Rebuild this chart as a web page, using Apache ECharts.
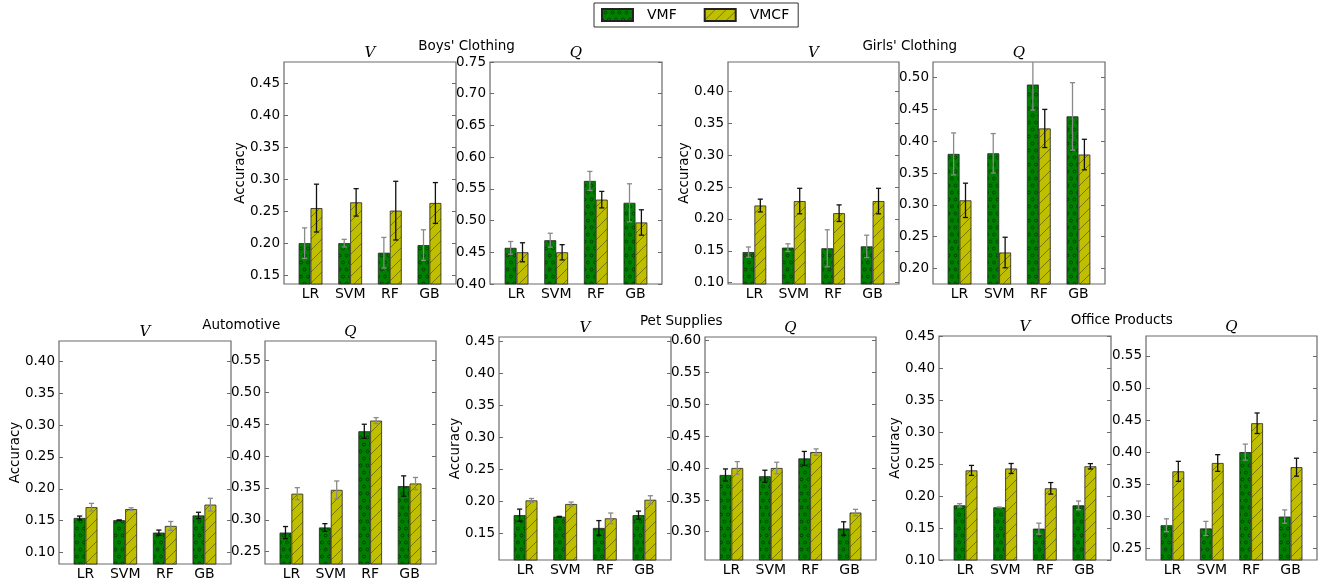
<!DOCTYPE html>
<html><head><meta charset="utf-8">
<script src="https://cdn.jsdelivr.net/npm/echarts@6/dist/echarts.min.js"></script>
<style>html,body{margin:0;padding:0;background:#fff}#c{width:1323px;height:583px}</style>
</head><body><div id="c"></div>
<script>
// ---------- DATA ----------
const categories = ['LR', 'SVM', 'RF', 'GB'];
const seriesNames = ['VMF', 'VMCF'];
const groupTitles = ["Boys' Clothing", "Girls' Clothing", 'Automotive', 'Pet Supplies', 'Office Products'];
const metricNames = ['V', 'Q'];

// Boys' Clothing
const boysV_VMF = [0.200, 0.200, 0.185, 0.197];
const boysV_VMF_err = [0.024, 0.006, 0.024, 0.024];
const boysV_VMCF = [0.255, 0.264, 0.251, 0.263];
const boysV_VMCF_err = [0.0375, 0.0215, 0.046, 0.032];
const boysQ_VMF = [0.457, 0.469, 0.5625, 0.528];
const boysQ_VMF_err = [0.010, 0.011, 0.015, 0.030];
const boysQ_VMCF = [0.450, 0.450, 0.533, 0.497];
const boysQ_VMCF_err = [0.015, 0.012, 0.013, 0.020];
// Girls' Clothing
const girlsV_VMF = [0.148, 0.155, 0.154, 0.157];
const girlsV_VMF_err = [0.008, 0.006, 0.029, 0.0175];
const girlsV_VMCF = [0.221, 0.228, 0.209, 0.228];
const girlsV_VMCF_err = [0.010, 0.020, 0.013, 0.020];
const girlsQ_VMF = [0.380, 0.381, 0.489, 0.439];
const girlsQ_VMF_err = [0.033, 0.031, 0.040, 0.053];
const girlsQ_VMCF = [0.307, 0.225, 0.420, 0.379];
const girlsQ_VMCF_err = [0.027, 0.024, 0.030, 0.024];
// Automotive
const autoV_VMF = [0.154, 0.1505, 0.131, 0.158];
const autoV_VMF_err = [0.003, 0.0005, 0.004, 0.005];
const autoV_VMCF = [0.171, 0.168, 0.1415, 0.175];
const autoV_VMCF_err = [0.006, 0.002, 0.007, 0.010];
const autoQ_VMF = [0.280, 0.288, 0.439, 0.353];
const autoQ_VMF_err = [0.0095, 0.006, 0.011, 0.016];
const autoQ_VMCF = [0.341, 0.347, 0.4557, 0.357];
const autoQ_VMCF_err = [0.0095, 0.014, 0.0047, 0.0095];
// Pet Supplies
const petV_VMF = [0.179, 0.1766, 0.159, 0.179];
const petV_VMF_err = [0.0094, 0.0005, 0.0115, 0.0063];
const petV_VMCF = [0.202, 0.1964, 0.174, 0.203];
const petV_VMCF_err = [0.003, 0.003, 0.0083, 0.0063];
const petQ_VMF = [0.389, 0.387, 0.415, 0.305];
const petQ_VMF_err = [0.0095, 0.0095, 0.011, 0.0105];
const petQ_VMCF = [0.400, 0.400, 0.425, 0.330];
const petQ_VMCF_err = [0.010, 0.009, 0.005, 0.005];
// Office Products
const officeV_VMF = [0.1854, 0.1823, 0.149, 0.1854];
const officeV_VMF_err = [0.0026, 0.0005, 0.0086, 0.0068];
const officeV_VMCF = [0.240, 0.243, 0.212, 0.2464];
const officeV_VMCF_err = [0.0078, 0.0078, 0.009, 0.0042];
const officeQ_VMF = [0.286, 0.281, 0.400, 0.2995];
const officeQ_VMF_err = [0.010, 0.011, 0.0125, 0.0104];
const officeQ_VMCF = [0.370, 0.383, 0.445, 0.3765];
const officeQ_VMCF_err = [0.0156, 0.013, 0.016, 0.014];

// Tick labels
const boysV_ticks = [0.15, 0.20, 0.25, 0.30, 0.35, 0.40, 0.45];
const boysQ_ticks = [0.40, 0.45, 0.50, 0.55, 0.60, 0.65, 0.70, 0.75];
const girlsV_ticks = [0.10, 0.15, 0.20, 0.25, 0.30, 0.35, 0.40];
const girlsQ_ticks = [0.20, 0.25, 0.30, 0.35, 0.40, 0.45, 0.50];
const autoV_ticks = [0.10, 0.15, 0.20, 0.25, 0.30, 0.35, 0.40];
const autoQ_ticks = [0.25, 0.30, 0.35, 0.40, 0.45, 0.50, 0.55];
const petV_ticks = [0.15, 0.20, 0.25, 0.30, 0.35, 0.40, 0.45];
const petQ_ticks = [0.30, 0.35, 0.40, 0.45, 0.50, 0.55, 0.60];
const officeV_ticks = [0.10, 0.15, 0.20, 0.25, 0.30, 0.35, 0.40, 0.45];
const officeQ_ticks = [0.25, 0.30, 0.35, 0.40, 0.45, 0.50, 0.55];

// Axis ranges
const boysV_range = [0.136, 0.484];
const boysQ_range = [0.40, 0.75];
const girlsV_range = [0.098, 0.446];
const girlsQ_range = [0.1755, 0.5245];
const autoV_range = [0.0816, 0.4325];
const autoQ_range = [0.2307, 0.5806];
const petV_range = [0.109, 0.457];
const petQ_range = [0.2555, 0.6057];
const officeV_range = [0.10, 0.45];
const officeQ_range = [0.2318, 0.581];

// ---------- LAYOUT / STYLE ----------
const FONT = 'DejaVu Sans';
const panels = [
  {g: 0, m: 0, vmf: boysV_VMF, vmfE: boysV_VMF_err, vmcf: boysV_VMCF, vmcfE: boysV_VMCF_err, ticks: boysV_ticks, range: boysV_range, box: [284, 62, 172, 222], gray: 0},
  {g: 0, m: 1, vmf: boysQ_VMF, vmfE: boysQ_VMF_err, vmcf: boysQ_VMCF, vmcfE: boysQ_VMCF_err, ticks: boysQ_ticks, range: boysQ_range, box: [490, 62, 172, 222], gray: 0},
  {g: 1, m: 0, vmf: girlsV_VMF, vmfE: girlsV_VMF_err, vmcf: girlsV_VMCF, vmcfE: girlsV_VMCF_err, ticks: girlsV_ticks, range: girlsV_range, box: [728, 62, 171, 222], gray: 0},
  {g: 1, m: 1, vmf: girlsQ_VMF, vmfE: girlsQ_VMF_err, vmcf: girlsQ_VMCF, vmcfE: girlsQ_VMCF_err, ticks: girlsQ_ticks, range: girlsQ_range, box: [933, 62, 172, 222], gray: 0},
  {g: 2, m: 0, vmf: autoV_VMF, vmfE: autoV_VMF_err, vmcf: autoV_VMCF, vmcfE: autoV_VMCF_err, ticks: autoV_ticks, range: autoV_range, box: [59, 341, 172, 223], gray: 1},
  {g: 2, m: 1, vmf: autoQ_VMF, vmfE: autoQ_VMF_err, vmcf: autoQ_VMCF, vmcfE: autoQ_VMCF_err, ticks: autoQ_ticks, range: autoQ_range, box: [265, 341, 171, 223], gray: 1},
  {g: 3, m: 0, vmf: petV_VMF, vmfE: petV_VMF_err, vmcf: petV_VMCF, vmcfE: petV_VMCF_err, ticks: petV_ticks, range: petV_range, box: [499, 337, 172, 223], gray: 1},
  {g: 3, m: 1, vmf: petQ_VMF, vmfE: petQ_VMF_err, vmcf: petQ_VMCF, vmcfE: petQ_VMCF_err, ticks: petQ_ticks, range: petQ_range, box: [705, 337, 171, 223], gray: 1},
  {g: 4, m: 0, vmf: officeV_VMF, vmfE: officeV_VMF_err, vmcf: officeV_VMCF, vmcfE: officeV_VMCF_err, ticks: officeV_ticks, range: officeV_range, box: [939, 336, 172, 224], gray: 0},
  {g: 4, m: 1, vmf: officeQ_VMF, vmfE: officeQ_VMF_err, vmcf: officeQ_VMCF, vmcfE: officeQ_VMCF_err, ticks: officeQ_ticks, range: officeQ_range, box: [1146, 336, 171, 224], gray: 0}
];
const X_MIN = -0.67, X_MAX = 3.67, BAR_W = 0.3;

function circlePattern() {
  const c = document.createElement('canvas');
  c.width = 7; c.height = 14;
  const g = c.getContext('2d');
  g.fillStyle = '#008000'; g.fillRect(0, 0, 7, 14);
  g.strokeStyle = 'rgba(0,0,0,0.55)'; g.lineWidth = 0.8;
  [[3.5, 3.5], [0, 10.5], [7, 10.5]].forEach(p => {
    g.beginPath(); g.arc(p[0], p[1], 1.5, 0, Math.PI * 2); g.stroke();
  });
  return c;
}
function slashPattern() {
  const c = document.createElement('canvas');
  c.width = 11; c.height = 11;
  const g = c.getContext('2d');
  g.fillStyle = '#bfbf00'; g.fillRect(0, 0, 11, 11);
  g.strokeStyle = 'rgba(40,40,0,0.6)'; g.lineWidth = 0.8;
  g.beginPath();
  g.moveTo(0, 11); g.lineTo(11, 0);
  g.moveTo(-1, 1); g.lineTo(1, -1);
  g.moveTo(10, 12); g.lineTo(12, 10);
  g.stroke();
  return c;
}
const fills = [{image: circlePattern(), repeat: 'repeat'}, {image: slashPattern(), repeat: 'repeat'}];

function errRenderer(offset, color) {
  return function (params, api) {
    const x = api.value(0) + offset, y = api.value(1), e = api.value(2);
    const top = api.coord([x, y + e]);
    const bot = api.coord([x, y - e]);
    const cap = api.size([0.065, 0])[0];
    const st = {stroke: color, lineWidth: 1.3};
    return {type: 'group', children: [
      {type: 'line', shape: {x1: top[0], y1: top[1], x2: bot[0], y2: bot[1]}, style: st},
      {type: 'line', shape: {x1: top[0] - cap, y1: top[1], x2: top[0] + cap, y2: top[1]}, style: st},
      {type: 'line', shape: {x1: bot[0] - cap, y1: bot[1], x2: bot[0] + cap, y2: bot[1]}, style: st}
    ]};
  };
}

const grids = [], xAxes = [], yAxes = [], series = [], graphics = [];
const catPos = categories.map((_, i) => i);
panels.forEach((p, i) => {
  const [l, t, w, h] = p.box;
  grids.push({left: l, top: t, width: w, height: h, show: true, borderColor: '#6a6a6a', borderWidth: 1.2, backgroundColor: 'transparent'});
  xAxes.push({type: 'value', gridIndex: i, min: X_MIN, max: X_MAX, position: 'bottom',
    axisLine: {show: false, onZero: false}, axisTick: {show: false}, splitLine: {show: false},
    axisLabel: {customValues: catPos, formatter: v => categories[Math.round(v)], fontSize: 14, fontFamily: FONT, color: '#000', margin: 3}});
  const tickStyle = {show: true, inside: true, length: 4, customValues: p.ticks, lineStyle: {color: '#6a6a6a', width: 1}};
  yAxes.push({type: 'value', gridIndex: i, min: p.range[0], max: p.range[1], position: 'left',
    axisLine: {show: false, onZero: false}, splitLine: {show: false}, axisTick: tickStyle,
    axisLabel: {customValues: p.ticks, formatter: v => v.toFixed(2), fontSize: 13.5, fontFamily: FONT, color: '#000', margin: 4}});
  yAxes.push({type: 'value', gridIndex: i, min: p.range[0], max: p.range[1], position: 'right',
    axisLine: {show: false, onZero: false}, splitLine: {show: false}, axisTick: tickStyle, axisLabel: {show: false}});
  const bw = BAR_W * w / (X_MAX - X_MIN);
  const vals = [p.vmf, p.vmcf], errs = [p.vmfE, p.vmcfE];
  const errColors = p.gray === 0 ? ['#8a8a8a', '#111'] : ['#111', '#8a8a8a'];
  [0, 1].forEach(s => {
    series.push({type: 'bar', name: seriesNames[s], xAxisIndex: i, yAxisIndex: i * 2,
      data: vals[s].map((v, k) => [k, v]), barWidth: bw, barGap: '0%', silent: true,
      itemStyle: {color: fills[s], borderColor: '#222', borderWidth: 0.8}});
  });
  [0, 1].forEach(s => {
    series.push({type: 'custom', name: seriesNames[s] + ' err', xAxisIndex: i, yAxisIndex: i * 2, clip: true, z: 5, silent: true,
      data: vals[s].map((v, k) => [k, v, errs[s][k]]), encode: {x: 0, y: 1},
      renderItem: errRenderer(s === 0 ? -BAR_W / 2 : BAR_W / 2, errColors[s])});
  });
  graphics.push({type: 'text', x: l + w / 2, y: t - 8.5, silent: true,
    style: {text: metricNames[p.m], fill: '#000', font: 'italic 15px "DejaVu Serif"', align: 'center', verticalAlign: 'middle'}});
  if (p.m === 0) {
    graphics.push({type: 'text', x: l - 44, y: t + h / 2, rotation: Math.PI / 2, silent: true,
      style: {text: 'Accuracy', fill: '#000', font: '13.5px "DejaVu Sans"', align: 'center', verticalAlign: 'middle'}});
  }
});
groupTitles.forEach((name, gi) => {
  const pp = panels.filter(p => p.g === gi);
  const c0 = pp[0].box[0] + pp[0].box[2] / 2, c1 = pp[1].box[0] + pp[1].box[2] / 2;
  graphics.push({type: 'text', x: (c0 + c1) / 2 - 6.5, y: pp[0].box[1] - 16, silent: true,
    style: {text: name, fill: '#000', font: '13.5px "DejaVu Sans"', align: 'center', verticalAlign: 'middle'}});
});

const chart = echarts.init(document.getElementById('c'), null, {renderer: 'canvas'});
chart.setOption({
  animation: false,
  backgroundColor: '#fff',
  legend: {data: seriesNames, left: 594, top: 3, icon: 'rect', itemWidth: 31, itemHeight: 12, itemGap: 27,
    padding: [5, 9, 5, 7], borderColor: '#333', borderWidth: 1, selectedMode: false,
    textStyle: {fontSize: 14, fontFamily: FONT, color: '#000', padding: [0, 0, 0, 9]}},
  grid: grids, xAxis: xAxes, yAxis: yAxes, series: series, graphic: graphics
});
</script></body></html>
